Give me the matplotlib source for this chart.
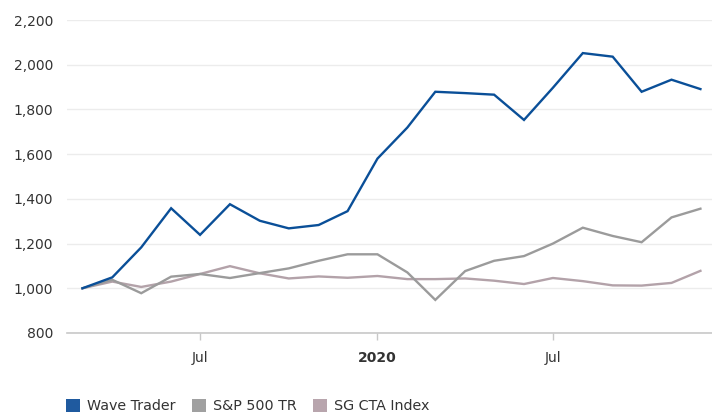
import matplotlib
matplotlib.use("Agg")
import matplotlib.pyplot as plt
import matplotlib.dates as mdates
from matplotlib.patches import Patch
import pandas as pd

plt.rcParams['font.family'] = ['DejaVu Sans']

dates = pd.date_range("2019-03-01", "2020-12-01", freq="MS")
wave_trader = [1000, 1049, 1183, 1358, 1239, 1376, 1302, 1268, 1283, 1345, 1580,
               1719, 1879, 1873, 1866, 1753, 1897, 2052, 2036, 1879, 1933, 1891]
sp500_tr = [1000, 1038, 978, 1052, 1064, 1046, 1068, 1089, 1123, 1152, 1152,
            1071, 948, 1077, 1123, 1144, 1200, 1271, 1234, 1206, 1317, 1356]
sg_cta = [1000, 1030, 1006, 1030, 1064, 1099, 1067, 1044, 1053, 1047, 1055,
          1041, 1041, 1044, 1034, 1019, 1046, 1032, 1013, 1012, 1024, 1078]
series_names = ["Wave Trader", "S&P 500 TR", "SG CTA Index"]
line_colors = ["#0a4f98", "#9b9b9b", "#b3a2a9"]
legend_colors = ["#1f5a9f", "#a0a0a0", "#b8a5ad"]
yticks = [800, 1000, 1200, 1400, 1600, 1800, 2000, 2200]
xtick_dates = [pd.Timestamp("2019-07-01"), pd.Timestamp("2020-01-01"), pd.Timestamp("2020-07-01")]
xtick_labels = ["Jul", "2020", "Jul"]

W, H = 712, 413
fig = plt.figure(figsize=(W / 100, H / 100), dpi=100)
ax = fig.add_axes([67 / W, 1 - 333 / H, (712 - 67) / W, (333 - 20) / H])

for vals, c in zip([wave_trader, sp500_tr, sg_cta][::-1], line_colors[::-1]):
    ax.plot(dates, vals, color=c, lw=1.7, solid_joinstyle='miter', zorder=3)

ax.set_ylim(800, 2200)
ax.set_xlim(pd.Timestamp("2019-02-13"), pd.Timestamp("2020-12-13"))
ax.set_yticks(yticks)
ax.set_yticklabels([f"{v:,}" for v in yticks])
ax.set_xticks(xtick_dates)
ax.set_xticklabels(xtick_labels)
for lbl in ax.get_xticklabels():
    if lbl.get_text() == "2020":
        lbl.set_fontweight("bold")
        lbl.set_color("#000000")

ax.grid(axis='y', color='#ececec', lw=1)
ax.set_axisbelow(True)
for s in ['top', 'right', 'left']:
    ax.spines[s].set_visible(False)
ax.spines['bottom'].set_color('#c8c8c8')
ax.spines['bottom'].set_linewidth(1.2)
ax.tick_params(axis='y', length=0, pad=10, labelsize=10, labelcolor='#333333')
ax.tick_params(axis='x', length=5, width=1, color='#c8c8c8', pad=8, labelsize=10, labelcolor='#333333')

handles = [Patch(facecolor=c, edgecolor='none') for c in legend_colors]
fig.legend(handles, series_names, loc='lower left', bbox_to_anchor=(53 / W, -0.032),
           ncol=3, frameon=False, fontsize=10.3, handlelength=1.0, handleheight=1.0,
           handletextpad=0.5, columnspacing=1.1, labelcolor='#333333')

fig.savefig("out.png", dpi=100)
